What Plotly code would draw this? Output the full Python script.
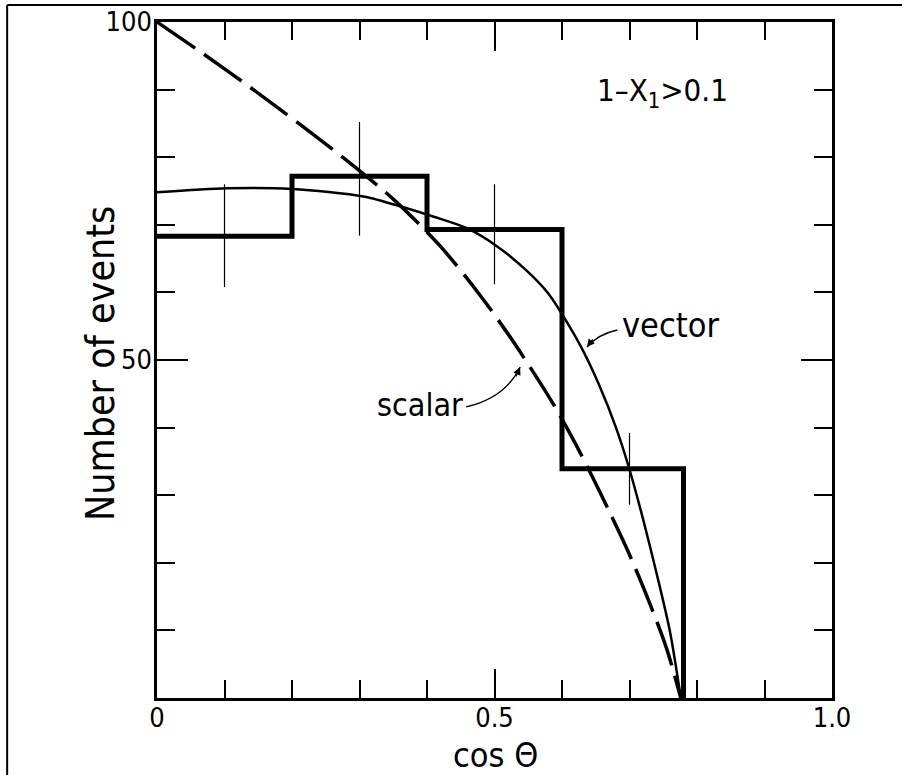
import plotly.graph_objects as go

# ---------------- data ----------------
bin_edges = [0.0, 0.2, 0.4, 0.6, 0.78]
bin_counts = [68.3, 77.2, 69.3, 33.9]
bin_centers = [0.1, 0.3, 0.5, 0.7]
err_plus = [7.7, 8.0, 6.7, 5.3]
err_minus = [7.5, 8.8, 8.1, 5.3]

scalar_x = [0.0, 0.07, 0.14, 0.21, 0.28, 0.35, 0.42, 0.48, 0.53, 0.59,
            0.63, 0.67, 0.70, 0.73, 0.755, 0.776]
scalar_y = [100.0, 95.2, 90.2, 85.0, 79.6, 73.8, 66.8, 59.4, 52.4, 43.0,
            35.7, 27.6, 21.2, 14.0, 7.3, 0.0]

vector_x = [0.0, 0.104, 0.2, 0.306, 0.365, 0.41, 0.459, 0.504, 0.55, 0.58,
            0.603, 0.63, 0.655, 0.68, 0.70, 0.72, 0.74, 0.76, 0.776]
vector_y = [74.8, 75.4, 75.3, 74.2, 72.6, 71.2, 69.5, 66.8, 63.0, 59.8,
            56.3, 51.6, 46.3, 40.0, 33.8, 26.5, 18.5, 9.8, 0.0]

x_ticks = [0, 0.5, 1.0]
x_ticklabels = ["0", "0.5", "1.0"]
y_ticks = [50, 100]
y_ticklabels = ["50", "100"]

# label / arrow placement (data coordinates)
scalar_arrow = [(0.458, 43.05), (0.516, 44.4), (0.538, 48.96)]
vector_arrow = [(0.682, 54.44), (0.654, 53.85), (0.637, 51.92)]

FONT = "DejaVu Sans Condensed, Liberation Sans, Arial, sans-serif"

# ---------------- figure ----------------
fig = go.Figure()

hist_x = bin_edges + [bin_edges[-1]]
hist_y = bin_counts + [bin_counts[-1], 0]
fig.add_trace(go.Scatter(x=hist_x, y=hist_y, mode="lines",
                         line=dict(shape="hv", color="black", width=5),
                         hoverinfo="skip", showlegend=False))

fig.add_trace(go.Scatter(x=bin_centers, y=bin_counts, mode="markers",
                         marker=dict(size=1, color="rgba(0,0,0,0)"),
                         error_y=dict(type="data", symmetric=False,
                                      array=err_plus, arrayminus=err_minus,
                                      width=0, thickness=1.2, color="black"),
                         showlegend=False))

fig.add_trace(go.Scatter(x=scalar_x, y=scalar_y, mode="lines",
                         line=dict(shape="spline", smoothing=0.8, color="black",
                                   width=3.5, dash="46px,11px"),
                         showlegend=False))

fig.add_trace(go.Scatter(x=vector_x, y=vector_y, mode="lines",
                         line=dict(shape="spline", smoothing=0.8, color="black",
                                   width=2.5),
                         showlegend=False))

axis_common = dict(showline=True, linecolor="black", linewidth=2.5,
                   mirror="ticks", ticks="inside", tickcolor="black",
                   tickwidth=2, showgrid=False, zeroline=False,
                   automargin=False,
                   tickfont=dict(family=FONT, size=27, color="black"))

fig.update_xaxes(range=[0, 1], tickvals=x_ticks, ticktext=x_ticklabels,
                 ticklen=29, ticklabelstandoff=-6,
                 minor=dict(dtick=0.1, ticks="inside", ticklen=18,
                            tickwidth=2, tickcolor="black"),
                 **axis_common)
fig.update_yaxes(range=[0, 100], tickvals=y_ticks, ticktext=y_ticklabels,
                 ticklen=31, ticklabelstandoff=-3,
                 minor=dict(dtick=10, ticks="inside", ticklen=18,
                            tickwidth=2, tickcolor="black"),
                 **axis_common)

shapes = []
for arr in (scalar_arrow, vector_arrow):
    (x0, y0), (cx, cy), (x1, y1) = arr
    shapes.append(dict(type="path", xref="x", yref="y",
                       path=f"M {x0},{y0} Q {cx},{cy} {x1},{y1}",
                       line=dict(color="black", width=1.3)))
# outer frame (top and left)
shapes.append(dict(type="line", xref="paper", yref="paper",
                   x0=-0.222, x1=1.11, y0=1.025, y1=1.025,
                   line=dict(color="black", width=2)))
shapes.append(dict(type="line", xref="paper", yref="paper",
                   x0=-0.222, x1=-0.222, y0=1.025, y1=-0.12,
                   line=dict(color="black", width=2)))

annotations = [
    dict(x=0.749, y=89.6, xref="x", yref="y", text="1–X<sub>1</sub>&gt;0.1",
         xanchor="center", yanchor="middle",
         showarrow=False, font=dict(family=FONT, size=31, color="black")),
    dict(x=0.760, y=55.2, xref="x", yref="y", text="vector",
         xanchor="center", yanchor="middle",
         showarrow=False, font=dict(family=FONT, size=34, color="black")),
    dict(x=0.39, y=43.3, xref="x", yref="y", text="scalar",
         xanchor="center", yanchor="middle",
         showarrow=False, font=dict(family=FONT, size=32, color="black")),
    # arrowheads
    dict(x=scalar_arrow[2][0], y=scalar_arrow[2][1], xref="x", yref="y",
         text="", showarrow=True, arrowhead=2, arrowsize=1.2, arrowwidth=1.3,
         arrowcolor="black", ax=-5, ay=11),
    dict(x=vector_arrow[2][0], y=vector_arrow[2][1], xref="x", yref="y",
         text="", showarrow=True, arrowhead=2, arrowsize=1.2, arrowwidth=1.3,
         arrowcolor="black", ax=7, ay=-9),
    # axis titles
    dict(x=0.501, y=-0.084, xref="paper", yref="paper", text="cos Θ",
         xanchor="center", yanchor="middle",
         showarrow=False, font=dict(family=FONT, size=34, color="black")),
    dict(x=-0.0836, y=0.495, xref="paper", yref="paper", text="Number of events",
         xanchor="center", yanchor="middle",
         textangle=-90, showarrow=False,
         font=dict(family=FONT, size=39, color="black")),
]

fig.update_layout(width=902, height=775,
                  margin=dict(l=157, r=70, t=22, b=77),
                  paper_bgcolor="white", plot_bgcolor="white",
                  shapes=shapes, annotations=annotations, showlegend=False)

fig.write_html("out.html",
               config={"displayModeBar": False},
               post_script="document.body.style.margin='0';"
                           "document.body.style.overflow='hidden';")
